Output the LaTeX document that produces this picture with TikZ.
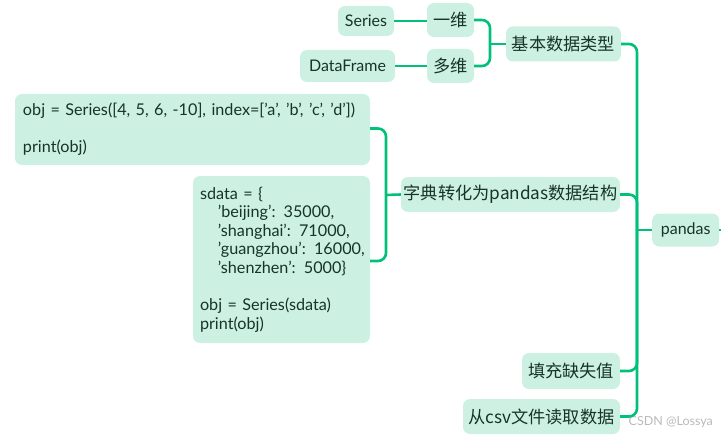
\documentclass[tikz,border=0pt]{standalone}
\usepackage{fontspec}
\setmainfont{Lato}
\newfontfamily\cjk{Noto Sans CJK SC}
\newcommand{\zh}{\cjk\fontsize{17.2}{20}\selectfont}
\definecolor{lk}{RGB}{0,192,122}
\definecolor{bx}{RGB}{204,240,226}
\definecolor{tx}{RGB}{22,52,40}
\definecolor{wm}{RGB}{185,185,185}
\begin{document}
\begin{tikzpicture}[x=1pt,y=-1pt,
  nd/.style={fill=bx, rounded corners=7pt, text=tx, inner sep=0pt, font=\fontsize{16}{19}\selectfont},
  cd/.style={fill=bx, rounded corners=7pt, text=tx, inner xsep=8pt, inner ysep=0pt, align=left, font=\fontsize{16.2}{18.6}\selectfont},
  ln/.style={draw=lk, line width=2.6pt, rounded corners=8pt}]
\useasboundingbox (0,0) rectangle (721,436);
\clip (0,0) rectangle (721,436);
% level 3
\node[nd, minimum width=56, minimum height=30] (series) at (366,21) {Series};
\node[nd, minimum width=47, minimum height=34] (yiwei) at (450.5,20) {\zh 一维};
\node[nd, minimum width=95, minimum height=32] (df) at (347.5,66) {DataFrame};
\node[nd, minimum width=47, minimum height=34] (duowei) at (450.5,66) {\zh 多维};
\node[nd, minimum width=115, minimum height=35] (jb) at (563.5,44) {\zh 基本数据类型};
\node[cd, minimum width=355, minimum height=71, text width=339] (code1) at (192.5,129.5)
  {\mbox{obj = Series([4, 5, 6, -10], index=[’a’, ’b’, ’c’, ’d’])}\\[18.6pt] print(obj)};
\node[cd, inner xsep=7pt, minimum width=177, minimum height=167, text width=163] (code2) at (281.5,259.5)
  {\mbox{sdata = \{}\\
  \mbox{\hspace*{1.1em}’beijing’: 35000,}\\
  \mbox{\hspace*{1.1em}’shanghai’: 71000,}\\
  \mbox{\hspace*{1.1em}’guangzhou’: 16000,}\\
  \mbox{\hspace*{1.1em}’shenzhen’: 5000\}}\\[18.6pt]
  \mbox{obj = Series(sdata)}\\
  \mbox{print(obj)}};
\node[nd, minimum width=219, minimum height=35] (zd) at (510.5,194.5) {\zh 字典转化为pandas数据结构};
\node[nd, minimum width=98, minimum height=36] (tc) at (571,371) {\zh 填充缺失值};
\node[nd, minimum width=157, minimum height=35] (csv) at (541.5,416.5) {\zh 从csv文件读取数据};
\node[nd, anchor=west, minimum width=67, minimum height=33] (pd) at (652,230) {pandas};
\node[anchor=east, text=wm, inner sep=0pt, font=\fontsize{12.5}{14}\selectfont] (wmk) at (713,422) {CSDN @Lossya};
% coordinates
\coordinate (b1) at (490,44);
\coordinate (b2) at (386,195);
\coordinate (t) at (637,230);
\coordinate (pe) at (730,230);
% connectors
\draw[ln] (series.east) -- (series.east -| yiwei.west);
\draw[ln] (df.east) -- (df.east -| duowei.west);
\draw[ln] (yiwei.east) -| (b1) |- (duowei.east);
\draw[ln] (b1) -- (jb.west);
\draw[ln] ([yshift=1pt]code1.east) -| (b2) |- ([yshift=-1.5pt]code2.east);
\draw[ln] (b2) -- (zd.west);
\draw[ln] (jb.east) -| (t) |- (csv.east);
\draw[ln] (zd.east) -| (t);
\draw[ln] (tc.east) -| (t);
\draw[ln] (t) -- (pd.west);
\draw[ln] (pd.east) -- (pe);
\end{tikzpicture}
\end{document}
